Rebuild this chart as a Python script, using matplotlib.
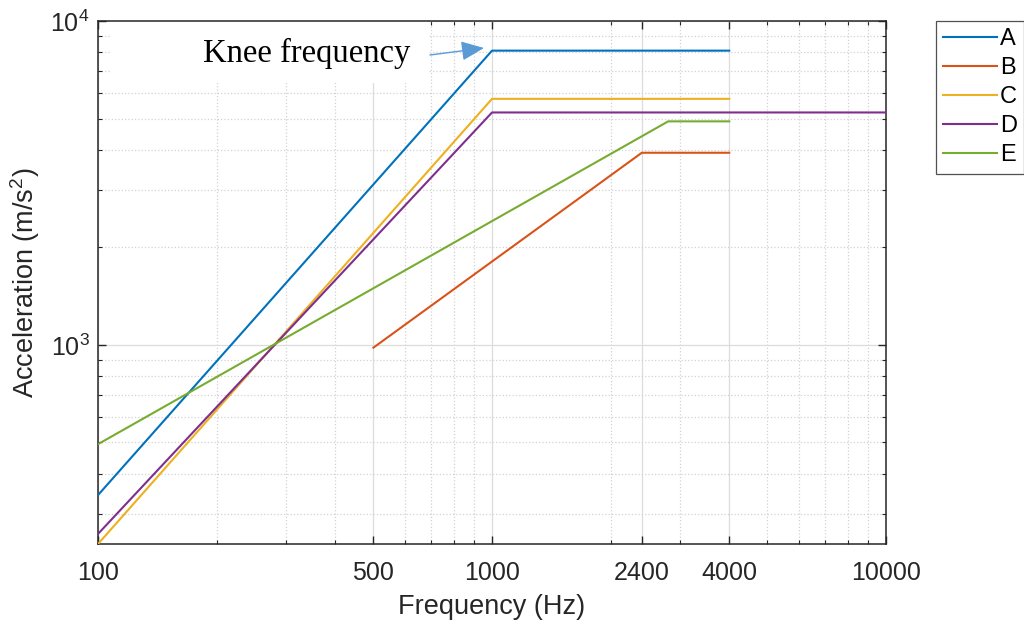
import numpy as np
import matplotlib
matplotlib.use('Agg')
import matplotlib.pyplot as plt
from matplotlib.patches import Rectangle
from matplotlib.ticker import FixedLocator, NullFormatter, LogLocator

plt.rcParams['font.family'] = 'Liberation Sans'
plt.rcParams['mathtext.fontset'] = 'custom'
plt.rcParams['mathtext.rm'] = 'Liberation Sans'
plt.rcParams['mathtext.default'] = 'regular'

# frequency breakpoints (Hz) and acceleration (m/s^2) per curve
freq_A = [100, 1000, 4000]
acc_A = [344, 8100, 8100]
freq_B = [500, 2400, 4000]
acc_B = [981, 3920, 3920]
freq_C = [100, 1000, 4000]
acc_C = [243, 5750, 5750]
freq_D = [100, 1000, 10000]
acc_D = [261, 5220, 5220]
freq_E = [100, 2800, 4000]
acc_E = [494, 4900, 4900]
labels = ['A', 'B', 'C', 'D', 'E']
colors = ['#0072BD', '#D95319', '#EDB120', '#7E2F8E', '#77AC30']

xticks = [100, 500, 1000, 2400, 4000, 10000]

fig = plt.figure(figsize=(10.24, 6.25), dpi=100)
ax = fig.add_axes([98/1024, 1-544/625, 788/1024, 523/625])

series = [(freq_A, acc_A), (freq_B, acc_B), (freq_C, acc_C), (freq_D, acc_D), (freq_E, acc_E)]
for (f, a), lab, c in zip(series, labels, colors):
    ax.plot(f, a, color=c, lw=1.5, label=lab, zorder=3)

ax.set_xscale('log')
ax.set_yscale('log')
ax.set_xlim(100, 10000)
ax.set_ylim(acc_C[0], 10000)

ax.xaxis.set_major_locator(FixedLocator(xticks))
ax.set_xticklabels([str(t) for t in xticks])
minor_x = [m * 10**e for e in [2, 3] for m in range(2, 10) if m * 10**e not in xticks]
ax.xaxis.set_minor_locator(FixedLocator(minor_x))
ax.xaxis.set_minor_formatter(NullFormatter())
ax.yaxis.set_major_locator(FixedLocator([1000, 10000]))
ax.set_yticklabels(['$10^3$', '$10^4$'])
ax.yaxis.set_minor_locator(LogLocator(base=10, subs=np.arange(2, 10)))
ax.yaxis.set_minor_formatter(NullFormatter())

ax.set_axisbelow(True)
ax.grid(True, which='major', color='#dcdcdc', lw=0.9, ls='-')
ax.grid(True, which='minor', color='#d2d2d2', lw=0.9, ls=':')

for s in ax.spines.values():
    s.set_color('#262626')
    s.set_linewidth(1.1)
ax.tick_params(which='both', direction='in', top=True, right=True, colors='#262626', labelsize=18)
ax.tick_params(which='major', length=6, width=1)
ax.tick_params(which='minor', length=3, width=0.8)
ax.tick_params(axis='x', pad=12)
ax.tick_params(axis='y', pad=6)

ax.set_xlabel('Frequency (Hz)', fontsize=19.5, color='#262626', labelpad=7)
ax.set_ylabel('Acceleration (m/s$^2$)', fontsize=19.5, color='#262626', labelpad=6)

# white text box hiding grid behind annotation
ax.add_patch(Rectangle((12/788, 1-62/523), 318/788, 62/523, transform=ax.transAxes,
                       facecolor='white', edgecolor='none', zorder=1))
ax.text(307/1024, 1-53/625, 'Knee frequency', transform=fig.transFigure,
        family='Liberation Serif', fontsize=23.5, ha='center', va='center', zorder=4)
ax.annotate('', xy=(484/1024, 1-48/625), xytext=(430/1024, 1-55/625),
            xycoords='figure fraction', textcoords='figure fraction',
            arrowprops=dict(arrowstyle='-|>,head_length=1.4,head_width=0.6',
                            color='#5B9BD5', lw=1.0, shrinkA=0, shrinkB=0), zorder=4)

leg = fig.legend(loc='upper left', bbox_to_anchor=(936/1024, 1-21/625), fontsize=17,
                 frameon=True, fancybox=False, edgecolor='#262626', handlelength=2.3,
                 handletextpad=0.1, labelspacing=0.3, borderpad=0.3, borderaxespad=0)
leg.get_frame().set_linewidth(0.9)

fig.savefig('out.png', dpi=100)
